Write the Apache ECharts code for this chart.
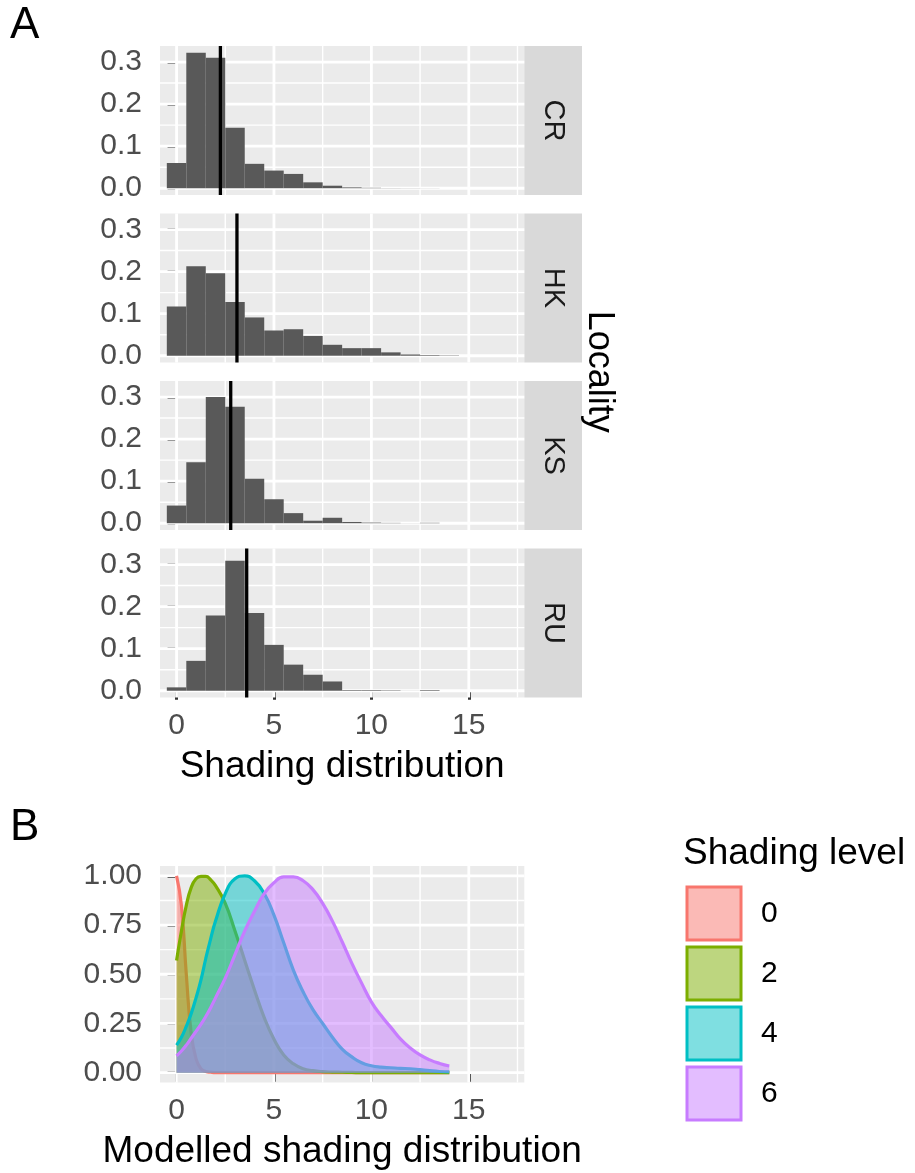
<!DOCTYPE html>
<html><head><meta charset="utf-8">
<script src="https://cdn.jsdelivr.net/npm/echarts@6/dist/echarts.min.js"></script>
<style>html,body{margin:0;padding:0;background:#fff}#c{width:915px;height:1173px}</style>
</head><body><div id="c"></div><script>
// ---------- DATA ----------
const localities = ['CR', 'HK', 'KS', 'RU'];
const binCenters = [0,1,2,3,4,5,6,7,8,9,10,11,12,13,14];
const histCR = [0.060, 0.322, 0.310, 0.144, 0.058, 0.042, 0.034, 0.014, 0.006, 0.002, 0.001, 0.0004, 0.0003, 0.0002];
const histHK = [0.117, 0.213, 0.196, 0.128, 0.091, 0.060, 0.063, 0.047, 0.026, 0.018, 0.018, 0.008, 0.003, 0.0015, 0.0008];
const histKS = [0.042, 0.145, 0.300, 0.277, 0.106, 0.057, 0.024, 0.006, 0.013, 0.003, 0.0015, 0.0008, 0.0002, 0.001];
const histRU = [0.008, 0.071, 0.179, 0.309, 0.185, 0.109, 0.062, 0.038, 0.022, 0.0015, 0.0015, 0.001, 0.0002, 0.0015];
const meanLines = [2.25, 3.10, 2.78, 3.60];

const levels = ['0', '2', '4', '6'];
const densX  = [0, 0.25, 0.5, 0.75, 1, 1.25, 1.5, 1.75, 2, 2.5, 3, 3.5, 4, 4.5, 5, 5.5, 6, 6.5, 7, 7.5, 8, 8.5, 9, 9.5, 10, 10.5, 11, 11.5, 12, 12.5, 13, 13.5, 14];
const dens0  = [1.0, 0.85, 0.50, 0.20, 0.07, 0.02, 0.006, 0.002, 0, 0, 0, 0, 0, 0, 0, 0, 0, 0, 0, 0, 0, 0, 0, 0, 0, 0, 0, 0, 0, 0, 0, 0, 0];
const dens2  = [0.57, 0.72, 0.85, 0.94, 0.985, 0.997, 0.997, 0.98, 0.95, 0.86, 0.72, 0.57, 0.42, 0.28, 0.17, 0.09, 0.045, 0.02, 0.01, 0.005, 0.003, 0.002, 0.001, 0, 0, 0, 0, 0, 0, 0, 0, 0, 0];
const dens4  = [0.14, 0.18, 0.235, 0.30, 0.38, 0.47, 0.58, 0.68, 0.77, 0.91, 0.985, 1.0, 0.975, 0.91, 0.80, 0.66, 0.52, 0.41, 0.32, 0.25, 0.18, 0.12, 0.08, 0.05, 0.035, 0.028, 0.025, 0.022, 0.02, 0.015, 0.01, 0.006, 0.004];
const dens6  = [0.085, 0.11, 0.14, 0.175, 0.21, 0.245, 0.285, 0.33, 0.38, 0.48, 0.60, 0.72, 0.82, 0.91, 0.965, 0.995, 0.995, 0.975, 0.93, 0.86, 0.77, 0.665, 0.555, 0.455, 0.36, 0.29, 0.23, 0.17, 0.125, 0.09, 0.065, 0.047, 0.034];

const xTicks  = [0, 5, 10, 15];
const xMinor  = [2.5, 7.5, 12.5, 17.5];
const yTicksA = [0, 0.1, 0.2, 0.3];
const yMinorA = [0.05, 0.15, 0.25];
const yTicksB = [0, 0.25, 0.5, 0.75, 1];
const yMinorB = [0.125, 0.375, 0.625, 0.875];

// ---------- STYLE / LAYOUT ----------
const FONT = "'Liberation Sans', Arial, sans-serif";
const lineColors = ['#F8766D', '#7CAE00', '#00BFC4', '#C77CFF'];
const fillColors = ['rgba(248,118,109,0.5)', 'rgba(124,174,0,0.5)', 'rgba(0,191,196,0.5)', 'rgba(199,124,255,0.5)'];
const X_MIN = -0.85, X_MAX = 17.85;
const YA_MIN = -0.0161, YA_MAX = 0.3381;
const YB_MIN = -0.05, YB_MAX = 1.05;
const facetTops = [46, 213.5, 381, 548.5];
const FACET_H = 149, PLOT_L = 160, PLOT_W = 364.3;
const B_TOP = 866, B_H = 216.5;
const STRIP_W = 57.7;
const TICK = {length: 9, lineStyle: {color: '#333333', width: 3}};
const LABEL = {color: '#4D4D4D', fontSize: 30, fontFamily: FONT};

const hists = [histCR, histHK, histKS, histRU];
const dens = [dens0, dens2, dens4, dens6];

function gridLineSeries(idx, xMaj, xMin, yMaj, yMin) {
  const data = [];
  xMin.forEach(v => data.push([0, v, 0]));
  yMin.forEach(v => data.push([1, v, 0]));
  xMaj.forEach(v => data.push([0, v, 1]));
  yMaj.forEach(v => data.push([1, v, 1]));
  return {
    type: 'custom', xAxisIndex: idx, yAxisIndex: idx, silent: true, z: 1, data,
    renderItem(params, api) {
      const cs = params.coordSys;
      const dir = api.value(0), v = api.value(1), maj = api.value(2);
      let shape;
      if (dir === 0) { const px = api.coord([v, 0])[0]; shape = {x1: px, y1: cs.y, x2: px, y2: cs.y + cs.height}; }
      else { const py = api.coord([0, v])[1]; shape = {x1: cs.x, y1: py, x2: cs.x + cs.width, y2: py}; }
      return {type: 'line', shape, style: {stroke: '#FFFFFF', lineWidth: maj ? 2.8 : 1.4}};
    }
  };
}

const grids = [], xAxes = [], yAxes = [], series = [], graphics = [];

facetTops.forEach((top, i) => {
  grids.push({left: PLOT_L, top, width: PLOT_W, height: FACET_H, show: true, backgroundColor: '#EBEBEB', borderWidth: 0, outerBoundsMode: 'none'});
  const last = i === facetTops.length - 1;
  xAxes.push({
    type: 'value', gridIndex: i, min: X_MIN, max: X_MAX,
    axisLine: {show: false}, splitLine: {show: false},
    axisTick: Object.assign({show: last, customValues: xTicks}, TICK),
    axisLabel: Object.assign({show: last, customValues: xTicks, margin: 13}, LABEL),
    name: last ? 'Shading distribution' : '', nameLocation: 'middle', nameGap: 51,
    nameTextStyle: {fontSize: 37, color: '#000000', fontFamily: FONT}
  });
  yAxes.push({
    type: 'value', gridIndex: i, min: YA_MIN, max: YA_MAX,
    axisLine: {show: false}, splitLine: {show: false},
    axisTick: Object.assign({show: true, customValues: yTicksA}, TICK),
    axisLabel: Object.assign({customValues: yTicksA, margin: 18, formatter: v => v.toFixed(1)}, LABEL)
  });
  series.push(gridLineSeries(i, xTicks, xMinor, yTicksA, yMinorA));
  series.push({
    type: 'custom', xAxisIndex: i, yAxisIndex: i, silent: true, z: 2,
    data: hists[i].map((v, k) => [binCenters[k], v]),
    renderItem(params, api) {
      const c = api.value(0), v = api.value(1);
      const a = api.coord([c - 0.5, v]), b = api.coord([c + 0.5, 0]);
      return {type: 'rect', shape: {x: a[0], y: a[1], width: b[0] - a[0], height: b[1] - a[1]}, style: {fill: '#595959'}};
    }
  });
  series.push({
    type: 'custom', xAxisIndex: i, yAxisIndex: i, silent: true, z: 3,
    data: [[meanLines[i], 0]],
    renderItem(params, api) {
      const cs = params.coordSys;
      const px = api.coord([api.value(0), 0])[0];
      return {type: 'line', shape: {x1: px, y1: cs.y, x2: px, y2: cs.y + cs.height}, style: {stroke: '#000000', lineWidth: 3.3}};
    }
  });
  graphics.push({type: 'rect', shape: {x: PLOT_L + PLOT_W, y: top, width: STRIP_W, height: FACET_H}, style: {fill: '#D9D9D9'}, silent: true});
  graphics.push({type: 'text', x: PLOT_L + PLOT_W + STRIP_W / 2, y: top + FACET_H / 2, rotation: -Math.PI / 2,
    style: {text: localities[i], fontSize: 29, fontFamily: FONT, fill: '#1A1A1A', align: 'center', verticalAlign: 'middle'}, silent: true});
});

graphics.push({type: 'text', x: 599, y: (facetTops[0] + facetTops[3] + FACET_H) / 2, rotation: -Math.PI / 2,
  style: {text: 'Locality', fontSize: 36, fontFamily: FONT, fill: '#000000', align: 'center', verticalAlign: 'middle'}, silent: true});

// Panel B
const bi = 4;
grids.push({left: PLOT_L, top: B_TOP, width: PLOT_W, height: B_H, show: true, backgroundColor: '#EBEBEB', borderWidth: 0, outerBoundsMode: 'none'});
xAxes.push({
  type: 'value', gridIndex: bi, min: X_MIN, max: X_MAX,
  axisLine: {show: false}, splitLine: {show: false},
  axisTick: Object.assign({show: true, customValues: xTicks}, TICK),
  axisLabel: Object.assign({customValues: xTicks, margin: 13}, LABEL),
  name: 'Modelled shading distribution', nameLocation: 'middle', nameGap: 51,
  nameTextStyle: {fontSize: 37, color: '#000000', fontFamily: FONT}
});
yAxes.push({
  type: 'value', gridIndex: bi, min: YB_MIN, max: YB_MAX,
  axisLine: {show: false}, splitLine: {show: false},
  axisTick: Object.assign({show: true, customValues: yTicksB}, TICK),
  axisLabel: Object.assign({customValues: yTicksB, margin: 18, formatter: v => v.toFixed(2)}, LABEL)
});
series.push(gridLineSeries(bi, xTicks, xMinor, yTicksB, yMinorB));
levels.forEach((lv, k) => {
  series.push({
    type: 'line', name: lv, xAxisIndex: bi, yAxisIndex: bi, z: 3 + k, silent: true,
    data: densX.map((x, j) => [x, dens[k][j]]),
    smooth: true, symbol: 'none', showSymbol: false,
    lineStyle: {color: lineColors[k], width: 3.2},
    itemStyle: {color: lineColors[k]},
    areaStyle: {color: fillColors[k], origin: 'auto', opacity: 1}
  });
});

const option = {
  animation: false,
  backgroundColor: '#FFFFFF',
  title: [
    {text: 'A', left: 10, top: 4, padding: 0, textStyle: {fontSize: 44, fontWeight: 'normal', fontFamily: FONT, color: '#000000'}},
    {text: 'B', left: 10, top: 806, padding: 0, textStyle: {fontSize: 44, fontWeight: 'normal', fontFamily: FONT, color: '#000000'}},
    {text: 'Shading level', left: 683, top: 835, padding: 0, textStyle: {fontSize: 37, fontWeight: 'normal', fontFamily: FONT, color: '#000000'}}
  ],
  legend: {
    orient: 'vertical', left: 685.5, top: 885.5, padding: 0,
    itemWidth: 54, itemHeight: 53, itemGap: 4, icon: 'rect', selectedMode: false,
    textStyle: {fontSize: 30, color: '#000000', fontFamily: FONT, padding: [0, 0, 0, 15]},
    data: levels.map((lv, k) => ({name: lv, icon: 'rect', itemStyle: {color: fillColors[k], borderColor: lineColors[k], borderWidth: 3}}))
  },
  grid: grids, xAxis: xAxes, yAxis: yAxes, series, graphic: graphics
};
const chart = echarts.init(document.getElementById('c'), null, {renderer: 'canvas'});
chart.setOption(option);
</script></body></html>
